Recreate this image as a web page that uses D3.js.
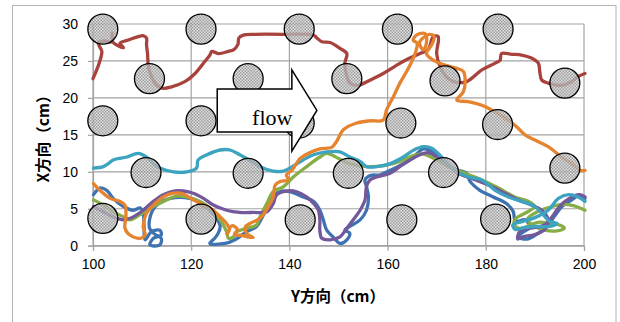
<!DOCTYPE html>
<html>
<head>
<meta charset="utf-8">
<script src="https://cdn.jsdelivr.net/npm/d3@7/dist/d3.min.js"></script>
<style>
  html, body { margin: 0; padding: 0; background: #fff; }
  svg { display: block; }
  .tick text { font-family: "Liberation Sans", Arial, sans-serif; font-size: 14px; fill: #000; }
  .title { font-family: "Noto Sans CJK JP", sans-serif; font-weight: bold; font-size: 15.5px; fill: #000; }
</style>
</head>
<body>
<svg id="chart" width="620" height="322"></svg>
<script>
// Axis ticks
const xTicks = [100, 120, 140, 160, 180, 200];
const yTicks = [0, 5, 10, 15, 20, 25, 30];

// Cylinder positions (Y方向, X方向) in cm
const cylinders = [
  [102, 29.3], [122, 29.3], [142, 29.3], [162, 29.3], [182.5, 29.3],
  [111.5, 22.6], [131.6, 22.6], [151.7, 22.6], [171.7, 22.3], [196.1, 22.0],
  [102, 16.9], [122, 16.9], [142, 16.6], [162.7, 16.6], [182.4, 16.4],
  [110.8, 9.9], [131.6, 9.8], [152, 9.8], [171.4, 9.9], [196.1, 10.5],
  [102, 3.7], [122, 3.6], [142.2, 3.5], [162.9, 3.5], [182, 3.6]
];
const cylinderRadius = 3.05; // in Y方向 units

// Trajectories (Y方向, X方向)
const trackRed = [
  [100.0,22.6],[101.3,24.8],[101.8,26.3],[101.3,27.0],[101.1,27.5],[102.4,27.7],[103.8,27.6],[103.9,28.8],
  [104.0,27.6],[105.0,27.1],[106.2,26.8],[105.5,27.4],[107.5,27.9],[109.2,28.3],[110.3,28.4],[110.9,28.1],
  [110.9,27.2],[111.1,26.0],[111.3,24.2],[111.9,22.9],[113.0,21.7],[114.3,21.3],[116.0,21.5],[118.7,22.2],
  [120.8,23.3],[122.5,24.7],[123.8,25.8],[124.2,26.3],[125.5,26.0],[127.6,26.3],[128.6,26.5],[129.5,27.2],
  [129.7,28.1],[130.6,28.5],[133.0,28.6],[138.8,28.6],[144.9,28.5],[145.6,28.1],[146.6,27.6],[148.3,27.5],
  [150.3,26.7],[151.7,26.0],[151.3,24.7],[151.7,22.9],[152.3,22.0],[154.0,21.7],[156.4,22.4],[159.1,23.3],
  [161.8,24.4],[164.2,25.3],[166.6,26.0],[168.3,26.6],[169.3,28.3],[170.3,28.3],[170.0,26.0],[170.7,24.2],
  [172.4,22.6],[174.1,22.1],[176.1,22.2],[179.2,23.8],[181.9,24.7],[182.9,25.1],[183.2,26.0],[185.3,25.9],
  [187.3,25.8],[189.3,25.4],[190.7,24.7],[191.0,23.5],[191.4,22.4],[192.7,22.0],[195.4,21.7],[197.5,22.2],
  [198.8,22.9],[200.2,23.3]
];
const trackBlue = [
  [100.1,6.9],[101.4,7.8],[102.8,7.5],[104.1,6.4],[106.2,5.3],[108.2,4.8],[109.6,5.1],[110.2,4.4],
  [110.4,2.6],[110.6,0.8],[111.9,1.9],[113.6,2.1],[113.9,1.45],[112.3,1.0],[111.6,0.1],[113.6,0.1],
  [113.9,1.0],[112.5,1.6],[111.5,2.4],[112.0,4.6],[114.0,6.0],[116.7,6.5],[118.7,6.5],[120.8,6.2],
  [122.1,5.5],[123.8,4.8],[125.2,3.7],[125.9,2.6],[125.5,1.7],[124.8,1.0],[123.8,0.3],[126.9,0.3],
  [128.9,0.8],[131.3,1.9],[133.3,2.6],[134.5,3.9],[135.8,5.5],[136.8,6.8],[138.5,7.4],[140.1,7.3],
  [142.8,6.6],[144.9,6.0],[146.2,4.8],[146.9,3.5],[147.6,2.1],[148.9,1.2],[150.3,0.3],[151.7,0.8],
  [152.3,1.7],[151.3,2.1],[152.3,2.6],[154.4,3.5],[155.7,4.8],[156.1,6.6],[155.7,8.0],[155.4,8.9],
  [156.5,9.5],[158.5,9.6],[160.5,10.2],[163.2,11.1],[165.2,12.0],[167.3,13.1],[169.0,12.8],[171.0,11.8],
  [173.5,10.4],[176.1,9.8],[176.8,8.7],[178.8,7.5],[181.5,6.6],[184.2,5.7],[185.6,4.6],[185.9,3.5],
  [186.5,3.3],[188.0,3.5],[189.0,2.5],[187.5,1.8],[186.5,1.2],[188.5,0.9],[190.5,1.6],[192.5,2.6],
  [194.0,4.0],[195.5,5.3],[197.5,6.2],[199.0,6.8],[200.2,6.4]
];
const trackGreen = [
  [100.1,6.2],[102.1,5.5],[104.1,4.6],[106.2,3.9],[107.5,3.5],[109.6,4.2],[112.3,5.3],[115.0,6.2],
  [117.0,6.7],[119.1,6.6],[121.8,6.0],[123.8,5.1],[125.9,3.5],[127.2,1.9],[127.6,1.0],[128.6,1.2],
  [129.3,1.9],[131.3,2.35],[133.3,2.8],[134.0,3.9],[135.4,5.7],[136.7,7.3],[138.8,8.0],[140.8,9.3],
  [143.5,10.7],[146.2,12.0],[147.6,12.5],[150.0,11.8],[152.3,11.1],[155.7,10.7],[159.8,10.9],[162.5,11.4],
  [165.2,12.2],[167.3,12.4],[170.0,11.6],[172.4,10.7],[175.8,9.8],[179.2,8.9],[182.6,7.8],[185.9,6.6],
  [188.7,6.0],[190.0,5.3],[188.0,4.4],[186.0,3.6],[185.8,2.8],[187.0,2.3],[189.0,2.8],[191.0,3.2],
  [193.0,3.0],[195.0,2.8],[196.0,2.4],[194.5,2.0],[192.0,2.1],[190.0,2.6],[188.5,3.6],[190.5,4.6],
  [193.0,5.2],[195.5,5.6],[198.0,5.4],[200.2,4.8]
];
const trackPurple = [
  [100.1,5.3],[102.1,4.6],[104.1,3.9],[106.2,3.5],[108.2,3.9],[110.2,4.8],[112.3,6.0],[114.3,6.9],
  [116.4,7.4],[118.4,7.4],[120.4,7.1],[122.5,6.4],[124.5,5.5],[127.2,4.8],[129.9,4.5],[132.6,4.5],
  [135.4,4.6],[136.7,5.7],[137.4,6.9],[139.4,7.4],[141.5,7.3],[143.5,6.6],[145.1,5.6],[145.9,4.8],
  [146.2,3.5],[146.2,2.1],[146.6,1.0],[148.3,0.8],[150.3,1.2],[151.7,2.35],[153.0,3.5],[154.4,4.8],
  [155.4,6.2],[155.7,8.0],[156.4,8.9],[157.8,9.3],[160.5,9.8],[162.5,10.7],[164.6,11.6],[166.6,12.3],
  [168.2,12.6],[171.0,11.6],[174.4,9.8],[177.1,9.1],[180.5,8.2],[183.9,7.1],[186.6,6.2],[189.3,5.5],
  [191.4,4.8],[192.7,3.5],[192.0,2.2],[190.0,1.5],[187.5,1.2],[186.5,0.9],[187.0,2.0],[189.5,2.4],
  [192.0,2.8],[193.5,3.9],[195.0,5.3],[197.0,6.4],[199.0,6.9],[200.2,6.6]
];
const trackTeal = [
  [100.1,10.5],[102.1,10.7],[103.1,11.1],[104.1,11.6],[106.9,12.0],[109.2,12.5],[110.9,12.0],[112.3,11.1],
  [113.6,10.5],[116.4,10.0],[119.1,10.0],[121.1,10.5],[121.4,11.6],[123.2,12.3],[125.9,12.95],[127.9,12.95],
  [129.9,12.3],[132.0,11.5],[134.0,10.7],[136.7,10.1],[138.8,10.1],[140.8,10.8],[142.8,11.6],[144.9,12.3],
  [147.6,12.7],[150.3,12.7],[152.3,12.0],[154.4,11.4],[155.7,10.7],[157.8,10.7],[160.5,11.1],[163.2,12.0],
  [165.2,12.9],[167.3,13.4],[169.0,13.2],[171.0,12.0],[173.7,10.2],[176.4,9.3],[179.2,8.9],[181.9,7.5],
  [184.6,6.6],[187.3,6.0],[190.0,5.3],[191.4,4.4],[193.0,3.3],[194.5,3.0],[193.0,2.6],[190.0,2.6],
  [187.5,2.4],[186.0,2.2],[185.5,2.8],[187.5,3.3],[190.0,3.8],[192.7,4.8],[194.8,6.4],[196.8,6.9],
  [198.8,6.6],[200.2,6.0]
];
const trackOrange = [
  [100.1,8.4],[101.4,7.5],[103.5,6.4],[105.5,6.0],[106.5,5.5],[106.7,3.9],[106.5,2.4],[107.5,1.45],
  [109.6,1.0],[110.6,1.45],[110.2,2.6],[110.9,4.4],[112.3,5.5],[114.3,6.6],[116.4,7.1],[118.4,7.0],
  [120.4,6.2],[122.5,5.5],[124.5,4.8],[125.9,3.9],[127.2,3.0],[127.8,2.2],[127.3,1.6],[128.3,2.7],
  [129.4,2.2],[128.8,1.5],[130.2,1.4],[131.5,1.2],[132.6,1.1],[131.4,1.6],[131.0,2.5],[132.2,3.1],
  [134.0,3.7],[135.7,5.3],[136.7,6.6],[137.1,8.2],[138.1,8.7],[139.8,8.9],[139.4,9.6],[140.5,10.2],
  [142.2,11.8],[144.2,12.6],[146.2,13.1],[148.6,13.3],[149.6,14.1],[151.0,15.7],[153.7,16.6],[156.4,16.9],
  [159.1,17.0],[159.8,18.4],[161.2,20.2],[162.5,22.0],[163.9,23.6],[164.9,24.9],[165.6,26.0],[166.0,27.4],
  [165.2,27.8],[165.9,28.5],[167.6,28.7],[167.9,27.4],[167.3,26.5],[166.5,27.5],[168.5,28.6],[169.5,28.3],
  [169.0,27.2],[167.9,26.0],[169.3,25.1],[171.3,24.5],[174.1,24.0],[175.4,23.6],[175.8,22.2],[175.4,20.8],
  [174.1,19.7],[176.4,19.5],[179.2,19.0],[181.9,18.1],[184.6,17.0],[186.6,15.9],[188.0,15.0],[190.0,14.3],
  [192.7,13.4],[195.4,12.0],[197.5,11.1],[199.2,10.2],[200.2,10.2]
];

// Drawing order: later tracks on top
const tracks = [
  { data: trackRed,    color: "#A8423D" },
  { data: trackBlue,   color: "#3E72B0" },
  { data: trackGreen,  color: "#87AD46" },
  { data: trackPurple, color: "#73589B" },
  { data: trackTeal,   color: "#3CA3C0" },
  { data: trackOrange, color: "#E5832F" }
];

// Flow arrow outline (Y方向, X方向)
const arrowShape = [
  [125.3, 21.2], [140.5, 21.2], [140.5, 23.8], [145.6, 18.3],
  [140.5, 12.8], [140.5, 15.4], [125.3, 15.4]
];
const flowLabel = { text: "flow", at: [132.4, 16.3] };

const svg = d3.select("#chart");
const x = d3.scaleLinear().domain([100, 200]).range([93, 584]);
const y = d3.scaleLinear().domain([0, 30]).range([245.7, 24]);

// outer chart frame
svg.append("rect")
  .attr("x", 12.5).attr("y", 5.5).attr("width", 603.5).attr("height", 330)
  .attr("fill", "none").attr("stroke", "#b3b3b3").attr("stroke-width", 1);

// checkered, partly see-through fill for the cylinders
const defs = svg.append("defs");
const pat = defs.append("pattern").attr("id", "checker")
  .attr("patternUnits", "userSpaceOnUse").attr("width", 3).attr("height", 3);
pat.append("rect").attr("width", 3).attr("height", 3).attr("fill", "#d4d4d4").attr("fill-opacity", 0.7);
pat.append("rect").attr("width", 1.5).attr("height", 1.5).attr("fill", "#8c8c8c").attr("fill-opacity", 0.8);
pat.append("rect").attr("x", 1.5).attr("y", 1.5).attr("width", 1.5).attr("height", 1.5).attr("fill", "#8c8c8c").attr("fill-opacity", 0.8);

// gridlines
svg.append("g").selectAll("line").data(yTicks).join("line")
  .attr("x1", x(100)).attr("x2", x(200))
  .attr("y1", d => y(d)).attr("y2", d => y(d))
  .attr("stroke", "#a3a3a3").attr("stroke-width", 1.2);
svg.append("g").selectAll("line").data(xTicks).join("line")
  .attr("y1", y(0)).attr("y2", y(30))
  .attr("x1", d => x(d)).attr("x2", d => x(d))
  .attr("stroke", "#a3a3a3").attr("stroke-width", 1.2);

// axes
const xAxis = svg.append("g").attr("transform", `translate(0,${y(0)})`)
  .call(d3.axisBottom(x).tickValues(xTicks).tickSize(5).tickPadding(8));
const yAxis = svg.append("g").attr("transform", `translate(${x(100)},0)`)
  .call(d3.axisLeft(y).tickValues(yTicks).tickSize(5).tickPadding(10));
[xAxis, yAxis].forEach(g => {
  g.select(".domain").attr("stroke", "#a3a3a3").attr("stroke-width", 1.2);
  g.selectAll(".tick line").attr("stroke", "#a3a3a3").attr("stroke-width", 1.2);
});

// trajectories
const line = d3.line()
  .x(d => x(d[0])).y(d => y(d[1]))
  .curve(d3.curveCatmullRom.alpha(0.5));
svg.append("g").selectAll("path").data(tracks).join("path")
  .attr("d", d => line(d.data))
  .attr("fill", "none")
  .attr("stroke", d => d.color)
  .attr("stroke-width", 3.3)
  .attr("stroke-linejoin", "round")
  .attr("stroke-linecap", "round");

// cylinders
const rPx = x(100 + cylinderRadius) - x(100);
svg.append("g").selectAll("circle").data(cylinders).join("circle")
  .attr("cx", d => x(d[0])).attr("cy", d => y(d[1])).attr("r", rPx)
  .attr("fill", "url(#checker)")
  .attr("stroke", "#000").attr("stroke-width", 1.3);

// flow arrow
svg.append("path")
  .attr("d", d3.line().x(d => x(d[0])).y(d => y(d[1]))(arrowShape) + "Z")
  .attr("fill", "#fff").attr("stroke", "#000").attr("stroke-width", 1.5)
  .attr("stroke-linejoin", "miter");
svg.append("text")
  .attr("x", x(flowLabel.at[0])).attr("y", y(flowLabel.at[1]))
  .attr("font-family", "'Liberation Serif', 'Times New Roman', serif")
  .attr("font-size", 22)
  .text(flowLabel.text);

// axis titles
svg.append("text").attr("class", "title")
  .attr("x", 338).attr("y", 302).attr("text-anchor", "middle")
  .text("Y方向（cm）");
svg.append("text").attr("class", "title")
  .attr("transform", "translate(49,135) rotate(-90)")
  .attr("text-anchor", "middle")
  .text("X方向（cm）");
</script>
</body>
</html>
